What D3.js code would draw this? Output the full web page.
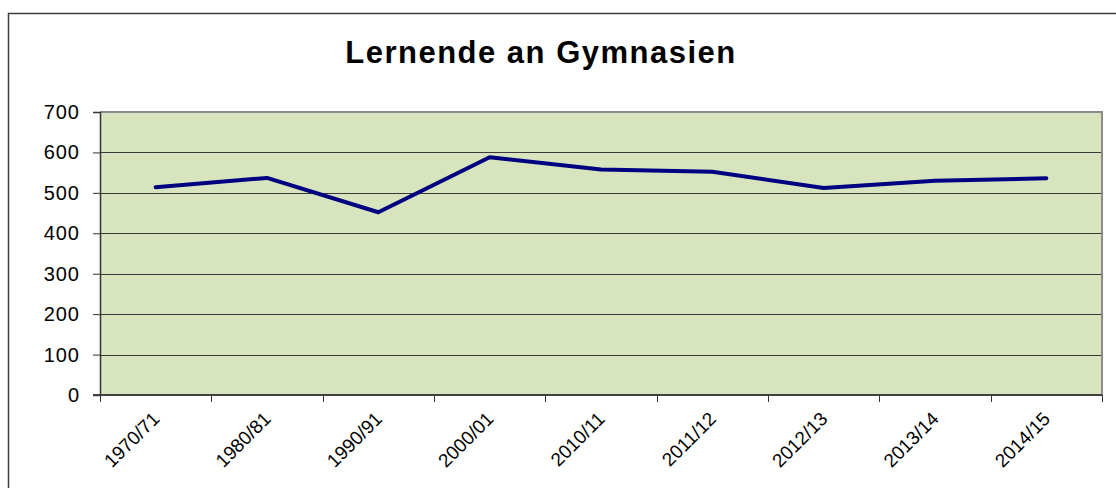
<!DOCTYPE html>
<html>
<head>
<meta charset="utf-8">
<script src="https://cdn.jsdelivr.net/npm/d3@7"></script>
<style>
  html, body { margin: 0; padding: 0; background: #fff; }
  svg { display: block; font-family: "Liberation Sans", Arial, sans-serif; }
</style>
</head>
<body>
<svg id="chart" width="1116" height="488"></svg>
<script>
const title = "Lernende an Gymnasien";
const categories = ["1970/71", "1980/81", "1990/91", "2000/01", "2010/11", "2011/12", "2012/13", "2013/14", "2014/15"];
const values = [514, 537, 452, 588, 558, 552, 512, 530, 536];
const yTicks = [0, 100, 200, 300, 400, 500, 600, 700];

const svg = d3.select("#chart");
const W = 1116, H = 488;
const plot = { left: 100, top: 112, right: 1102, bottom: 395 };

// outer chart border
svg.append("rect")
  .attr("x", 8.5).attr("y", 13.5)
  .attr("width", W + 20).attr("height", H + 20)
  .attr("fill", "#fff").attr("stroke", "#3c3c3c").attr("stroke-width", 1.5);

const x = d3.scaleBand().domain(categories).range([plot.left, plot.right]);
const y = d3.scaleLinear().domain([0, 700]).range([plot.bottom, plot.top]);

// plot area
svg.append("rect")
  .attr("x", plot.left).attr("y", plot.top)
  .attr("width", plot.right - plot.left).attr("height", plot.bottom - plot.top)
  .attr("fill", "#D7E4BD");

// gridlines
svg.append("g").selectAll("line")
  .data(yTicks.filter(d => d > 0 && d < 700))
  .join("line")
  .attr("x1", plot.left).attr("x2", plot.right)
  .attr("y1", d => Math.round(y(d)) + 0.5).attr("y2", d => Math.round(y(d)) + 0.5)
  .attr("stroke", "#3a3a3a").attr("stroke-width", 1);

// top & right border
svg.append("path")
  .attr("d", `M${plot.left},${plot.top}H${plot.right}V${plot.bottom}`)
  .attr("fill", "none").attr("stroke", "#8c8c8c").attr("stroke-width", 2);

// y axis
const yAxis = svg.append("g")
  .attr("transform", `translate(${plot.left},0)`)
  .call(d3.axisLeft(y).tickValues(yTicks).tickSize(7).tickFormat(() => ""));
yAxis.select(".domain").attr("stroke", "#333").attr("stroke-width", 1.5);
yAxis.selectAll(".tick line").attr("stroke", "#333");
svg.append("g").selectAll("text").data(yTicks).join("text")
  .attr("x", plot.left - 20)
  .attr("y", d => y(d))
  .attr("dy", "0.35em")
  .attr("text-anchor", "end")
  .attr("font-size", 20)
  .attr("letter-spacing", 1)
  .attr("fill", "#000")
  .text(d => d);

// x axis: ticks at band boundaries
const xAxis = svg.append("g")
  .attr("transform", `translate(0,${plot.bottom})`);
xAxis.append("line")
  .attr("x1", plot.left - 7).attr("x2", plot.right)
  .attr("y1", 0).attr("y2", 0)
  .attr("stroke", "#404040").attr("stroke-width", 2);
const boundaries = categories.map(c => x(c)).concat([x(categories[categories.length - 1]) + x.bandwidth()]);
xAxis.selectAll("line.tk").data(boundaries).join("line")
  .attr("class", "tk")
  .attr("x1", d => Math.round(d) + 0.5).attr("x2", d => Math.round(d) + 0.5)
  .attr("y1", 0).attr("y2", 7)
  .attr("stroke", "#333").attr("stroke-width", 1);
xAxis.selectAll("text").data(categories).join("text")
  .attr("transform", d => `translate(${x(d) + x.bandwidth() / 2 + 5},${25}) rotate(-45)`)
  .attr("text-anchor", "end")
  .attr("font-size", 19)
  .attr("fill", "#000")
  .text(d => d);

// line
const line = d3.line()
  .x((d, i) => x(categories[i]) + x.bandwidth() / 2)
  .y(d => y(d));
svg.append("path")
  .datum(values)
  .attr("d", line)
  .attr("fill", "none")
  .attr("stroke", "#000080")
  .attr("stroke-width", 4)
  .attr("stroke-linejoin", "round")
  .attr("stroke-linecap", "round");

// title
svg.append("text")
  .attr("x", 541).attr("y", 63)
  .attr("text-anchor", "middle")
  .attr("font-size", 31)
  .attr("letter-spacing", 1.5)
  .attr("font-weight", "bold")
  .attr("fill", "#000")
  .text(title);
</script>
</body>
</html>
